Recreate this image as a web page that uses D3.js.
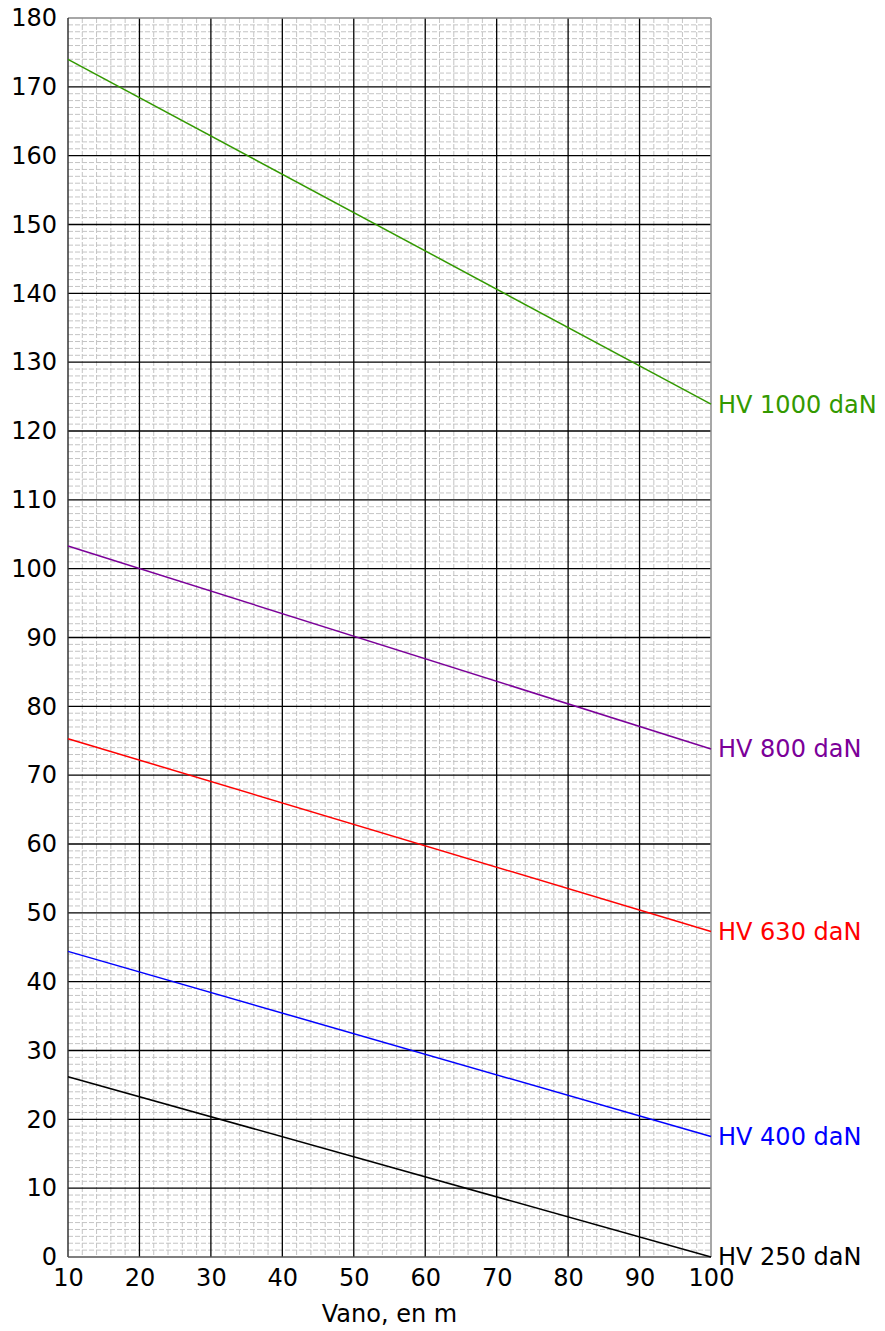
<!DOCTYPE html>
<html>
<head>
<meta charset="utf-8">
<script src="https://cdn.jsdelivr.net/npm/d3@7"></script>
<style>
  body { margin: 0; background: #fff; }
  svg text { font-family: "DejaVu Sans", Verdana, sans-serif; }
</style>
</head>
<body>
<div id="chart"></div>
<script>
// valeurs (x = vano en m)
var vanoEnds = [10, 100];
var series = [
  { name: "HV 1000 daN", color: "#339900", values: [174.0, 123.9] },
  { name: "HV 800 daN",  color: "#7b0099", values: [103.3, 73.8] },
  { name: "HV 630 daN",  color: "#ff0000", values: [75.3, 47.3] },
  { name: "HV 400 daN",  color: "#0000ff", values: [44.4, 17.5] },
  { name: "HV 250 daN",  color: "#000000", values: [26.2, 0.0] }
];
var xTicks = [10, 20, 30, 40, 50, 60, 70, 80, 90, 100];
var yTicks = d3.range(0, 181, 10);
var xMinor = d3.range(10, 101, 2);
var yMinor = d3.range(0, 181, 1);
var xTitle = "Vano, en m";

var width = 885, height = 1331;
var margin = { top: 18, right: 174, bottom: 74, left: 68 };
var innerW = width - margin.left - margin.right;
var innerH = height - margin.top - margin.bottom;
var fontSize = 24;

var svg = d3.select("#chart").append("svg")
  .attr("width", width)
  .attr("height", height);

var g = svg.append("g")
  .attr("transform", `translate(${margin.left},${margin.top})`);

var x = d3.scaleLinear().domain([10, 100]).range([0, innerW]);
var y = d3.scaleLinear().domain([0, 180]).range([innerH, 0]);

// grille secondaire (pointillés gris)
g.append("g").selectAll("line")
  .data(yMinor.filter(d => d % 10 != 0))
  .join("line")
  .attr("x1", 0).attr("x2", innerW)
  .attr("y1", d => y(d)).attr("y2", d => y(d))
  .attr("stroke", "#c4c4c4")
  .attr("stroke-width", 1)
  .attr("stroke-dasharray", "5,2");

g.append("g").selectAll("line")
  .data(xMinor.filter(d => d % 10 != 0))
  .join("line")
  .attr("x1", d => x(d)).attr("x2", d => x(d))
  .attr("y1", 0).attr("y2", innerH)
  .attr("stroke", "#c4c4c4")
  .attr("stroke-width", 1)
  .attr("stroke-dasharray", "5,2");

// grille principale
g.append("g").selectAll("line")
  .data(yTicks.filter(d => d > 0 && d < 180))
  .join("line")
  .attr("x1", 0).attr("x2", innerW)
  .attr("y1", d => y(d)).attr("y2", d => y(d))
  .attr("stroke", "#000")
  .attr("stroke-width", 1.3);

g.append("g").selectAll("line")
  .data(xTicks.filter(d => d > 10 && d < 100))
  .join("line")
  .attr("x1", d => x(d)).attr("x2", d => x(d))
  .attr("y1", 0).attr("y2", innerH)
  .attr("stroke", "#000")
  .attr("stroke-width", 1.3);

// cadre
g.append("line").attr("x1", 0).attr("x2", innerW).attr("y1", 0).attr("y2", 0)
  .attr("stroke", "#8a8a8a").attr("stroke-width", 1.3);
g.append("line").attr("x1", innerW).attr("x2", innerW).attr("y1", 0).attr("y2", innerH)
  .attr("stroke", "#8a8a8a").attr("stroke-width", 1.5);
g.append("line").attr("x1", 0).attr("x2", 0).attr("y1", 0).attr("y2", innerH)
  .attr("stroke", "#333").attr("stroke-width", 1.5);
g.append("line").attr("x1", 0).attr("x2", innerW).attr("y1", innerH).attr("y2", innerH)
  .attr("stroke", "#555").attr("stroke-width", 1.5);

// axes (texte seulement)
var xAxis = d3.axisBottom(x).tickValues(xTicks).tickSize(0).tickPadding(12);
g.append("g")
  .attr("transform", `translate(0,${innerH})`)
  .call(xAxis)
  .call(a => a.select(".domain").remove())
  .selectAll("text")
  .attr("font-size", fontSize)
  .attr("fill", "#000")
  .style("font-family", '"DejaVu Sans", Verdana, sans-serif');

var yAxis = d3.axisLeft(y).tickValues(yTicks).tickSize(0).tickPadding(11);
g.append("g")
  .call(yAxis)
  .call(a => a.select(".domain").remove())
  .selectAll("text")
  .attr("font-size", fontSize)
  .attr("fill", "#000")
  .style("font-family", '"DejaVu Sans", Verdana, sans-serif');

// courbes
var line = d3.line()
  .x((d, i) => x(vanoEnds[i]))
  .y(d => y(d));

g.append("g").selectAll("path")
  .data(series)
  .join("path")
  .attr("d", d => line(d.values))
  .attr("fill", "none")
  .attr("stroke", d => d.color)
  .attr("stroke-width", 1.5);

// étiquettes à droite
g.append("g").selectAll("text")
  .data(series)
  .join("text")
  .attr("x", innerW + 7)
  .attr("y", d => y(d.values[1]))
  .attr("dy", "0.35em")
  .attr("font-size", fontSize)
  .attr("fill", d => d.color)
  .text(d => d.name);

// titre de l'axe x
svg.append("text")
  .attr("x", margin.left + innerW / 2)
  .attr("y", 1322)
  .attr("text-anchor", "middle")
  .attr("font-size", fontSize)
  .attr("fill", "#000")
  .text(xTitle);
</script>
</body>
</html>
